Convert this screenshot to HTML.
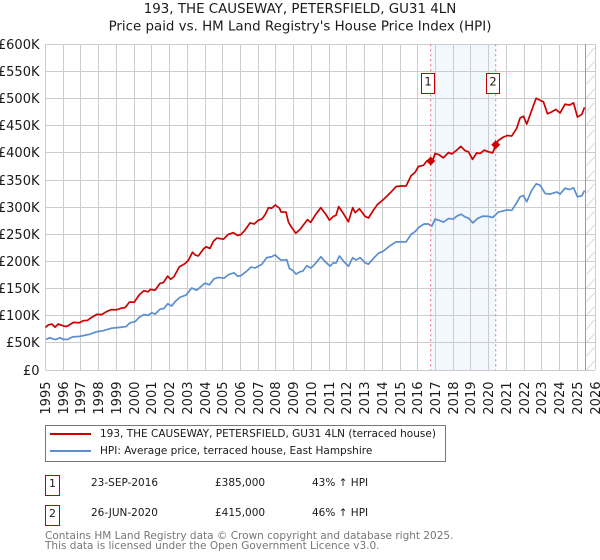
<!DOCTYPE html>
<html lang="en">
<head>
<meta charset="utf-8">
<title>193, The Causeway, Petersfield price chart</title>
<style>
html,body{margin:0;padding:0;background:#fff;}
body{width:600px;height:560px;position:relative;overflow:hidden;font-family:"DejaVu Sans","Liberation Sans",sans-serif;color:#1a1a1a;}
svg{position:absolute;left:0;top:0;}
text{font-family:"DejaVu Sans","Liberation Sans",sans-serif;}
.abs{position:absolute;white-space:nowrap;}
.num-box{position:absolute;left:45px;width:13px;height:19px;border:1px solid #c00000;background:#fff;font-size:11px;line-height:15px;text-align:center;}
.cell{position:absolute;font-size:10.5px;line-height:14px;white-space:nowrap;color:#1a1a1a;}
</style>
</head>
<body>
<svg id="chart" width="600" height="420" viewBox="0 0 600 420" xmlns="http://www.w3.org/2000/svg"></svg>

<div class="abs" style="left:45px;top:425px;width:399px;height:35px;border:1px solid #777;">
  <div class="abs" style="left:4px;top:7px;width:41px;height:2px;background:#cc0000;"></div>
  <div class="abs" style="left:54px;top:1px;font-size:10.5px;line-height:14px;">193, THE CAUSEWAY, PETERSFIELD, GU31 4LN (terraced house)</div>
  <div class="abs" style="left:4px;top:24px;width:41px;height:2px;background:#5b8ed1;"></div>
  <div class="abs" style="left:54px;top:18px;font-size:10.5px;line-height:14px;">HPI: Average price, terraced house, East Hampshire</div>
</div>

<div class="num-box" style="top:475px;">1</div>
<div class="cell" style="left:91px;top:476px;">23-SEP-2016</div>
<div class="cell" style="left:215px;top:476px;">£385,000</div>
<div class="cell" style="left:312px;top:476px;">43% ↑ HPI</div>

<div class="num-box" style="top:505px;">2</div>
<div class="cell" style="left:91px;top:506px;">26-JUN-2020</div>
<div class="cell" style="left:215px;top:506px;">£415,000</div>
<div class="cell" style="left:312px;top:506px;">46% ↑ HPI</div>

<div class="abs" style="left:45px;top:531px;font-size:10.5px;line-height:10px;color:#777;">Contains HM Land Registry data © Crown copyright and database right 2025.<br>This data is licensed under the Open Government Licence v3.0.</div>

<script>
const titleLines = ["193, THE CAUSEWAY, PETERSFIELD, GU31 4LN", "Price paid vs. HM Land Registry's House Price Index (HPI)"];
const yTicks = [0, 50, 100, 150, 200, 250, 300, 350, 400, 450, 500, 550, 600];
const xTicks = [1995,1996,1997,1998,1999,2000,2001,2002,2003,2004,2005,2006,2007,2008,2009,2010,2011,2012,2013,2014,2015,2016,2017,2018,2019,2020,2021,2022,2023,2024,2025,2026];
const saleLabels = ["1", "2"];
const saleYears = [2016.73, 2020.40];
const salePrices = [385, 415];
const dataEndYear = 2025.48;
const propertyYears = [1995,1995.16,1995.35,1995.54,1995.72,1995.97,1996.16,1996.29,1996.57,1996.91,1997.13,1997.36,1997.61,1997.89,1998.17,1998.41,1998.68,1999.02,1999.30,1999.50,1999.73,2000.01,2000.29,2000.55,2000.79,2000.92,2001.18,2001.46,2001.65,2001.89,2002.06,2002.25,2002.55,2002.87,2003.06,2003.29,2003.44,2003.62,2003.91,2004.06,2004.28,2004.47,2004.66,2005.04,2005.32,2005.60,2005.83,2006.01,2006.26,2006.54,2006.77,2007.01,2007.20,2007.39,2007.58,2007.76,2007.97,2008.20,2008.29,2008.57,2008.70,2008.84,2008.99,2009.12,2009.36,2009.64,2009.78,2009.96,2010.21,2010.53,2010.83,2011.02,2011.24,2011.39,2011.54,2011.81,2012.09,2012.33,2012.47,2012.71,2013.03,2013.22,2013.50,2013.73,2014.06,2014.44,2014.78,2015.10,2015.34,2015.63,2015.85,2016.04,2016.32,2016.51,2016.66,2016.83,2016.98,2017.17,2017.45,2017.73,2017.92,2018.20,2018.43,2018.67,2018.86,2019.09,2019.33,2019.52,2019.75,2019.99,2020.23,2020.38,2020.55,2020.83,2021.06,2021.30,2021.58,2021.77,2021.96,2022.15,2022.43,2022.68,2022.90,2023.09,2023.32,2023.56,2023.79,2024.03,2024.31,2024.56,2024.79,2025.01,2025.26,2025.41];
const propertyValues = [78.5,83,84.7,79,84.7,81.6,80,82,87.7,87,90.8,91.4,97,102.5,102,107,111,111,114,115,125,125,138.6,146,144,148.5,147,159.5,161,173,167,172,190,196,202,217,212,210,223,227,224,237,243,241,250,253,248,249,258,271,269,276,278,286,299,298,304,298,291,291,273,265,258,252,259,271,277,272,285,299,286,276,283,285,301,288,273,299,290,297,283,280,294.5,305,314,326,338,339,339,358,364,375,377,385,385,385,399,397,391,400.6,398,405,412,404,402,388,400,399,405,402,400,413.5,423,429,432,431,445,464,467.5,453,478.5,500.6,497,494,472,475.5,480,473.6,489.6,488,492,466,471,484];
const hpiYears = [1995.03,1995.25,1995.44,1995.57,1995.82,1996.01,1996.25,1996.53,1996.95,1997.23,1997.51,1997.89,1998.26,1998.73,1999.20,1999.54,1999.77,2000.05,2000.30,2000.55,2000.79,2000.99,2001.18,2001.46,2001.69,2001.89,2002.12,2002.31,2002.59,2002.93,2003.25,2003.53,2004.00,2004.25,2004.51,2004.75,2005.07,2005.32,2005.64,2005.83,2006.01,2006.35,2006.59,2006.82,2007.20,2007.48,2007.76,2007.95,2008.27,2008.61,2008.76,2008.95,2009.13,2009.36,2009.51,2009.74,2009.96,2010.11,2010.30,2010.53,2010.83,2011.05,2011.24,2011.39,2011.58,2011.81,2012.09,2012.33,2012.52,2012.75,2013.03,2013.22,2013.50,2013.78,2014.06,2014.44,2014.78,2015.10,2015.34,2015.63,2015.85,2016.07,2016.36,2016.60,2016.79,2016.98,2017.26,2017.45,2017.73,2018.01,2018.20,2018.45,2018.67,2018.86,2019.11,2019.37,2019.67,2019.99,2020.23,2020.55,2020.83,2021.06,2021.30,2021.58,2021.77,2021.96,2022.15,2022.43,2022.68,2022.90,2023.19,2023.47,2023.85,2024.03,2024.31,2024.56,2024.79,2025.01,2025.26,2025.41];
const hpiValues = [56.4,59.5,57,56,59.5,56.4,56.4,61,62,64,66,70.5,72.4,77,78.5,80,87,89,97.5,102,100.6,105.5,103,112,113.5,122,118,126,134,138,151,147,160,157,168,170.5,169,175.5,179,173,173.6,182,189.6,188,194.5,207,208.6,212,202.5,203,187,183.5,176.7,181,182,192,188,192,199,208.6,198,191.4,197.5,197,210,200.6,191,207,202.5,207,197.5,195,205.5,215,219,229,236,236,236,250,255,263,269,269,265,278,275,272.4,279,278,283.4,287,282,280,271,279,283.4,283,281,291,293,295,294,308,319,321.5,310,331,343,340.5,325,324,328,324,335,332.5,335.6,319,321,330.7];

const NS = "http://www.w3.org/2000/svg";
const svg = document.getElementById("chart");
const plot = {left: 45.5, right: 595, top: 44.3, bottom: 370};
const xScale = y => plot.left + (y - xTicks[0]) / (xTicks[xTicks.length - 1] - xTicks[0]) * (plot.right - plot.left);
const yScale = v => plot.bottom - v / yTicks[yTicks.length - 1] * (plot.bottom - plot.top);
const snap = p => Math.round(p - 0.5) + 0.5;

function make(tag, attrs, parent, text) {
  const el = document.createElementNS(NS, tag);
  for (const k in attrs) el.setAttribute(k, attrs[k]);
  if (text !== undefined) el.textContent = text;
  (parent || svg).appendChild(el);
  return el;
}

// hatch pattern for the period after the last data point
const defs = make("defs", {});
const pat = make("pattern", {id: "hatch", width: 10, height: 13.6, patternUnits: "userSpaceOnUse", x: snap(xScale(dataEndYear)), y: 44}, defs);
make("line", {x1: 1, y1: 13, x2: 9, y2: 4, stroke: "#d8d8d8", "stroke-width": 1}, pat);

// shaded band between the two sales
const band = make("rect", {x: xScale(saleYears[0]), y: plot.top, width: xScale(saleYears[1]) - xScale(saleYears[0]), height: plot.bottom - plot.top, fill: "#f3f7fe"});



// grid
yTicks.forEach(t => {
  const y = snap(yScale(t));
  const line = make("line", {x1: plot.left, x2: plot.right, y1: y, y2: y, stroke: "#cccccc", "stroke-width": 1});
  
  
  const label = make("text", {x: 39.5, y: y + 4.5, "text-anchor": "end", "font-size": 13, fill: "#1a1a1a"}, svg, t === 0 ? "£0" : "£" + t + "K");
  
  
});
xTicks.forEach(t => {
  const x = snap(xScale(t));
  const line = make("line", {x1: x, x2: x, y1: plot.top, y2: plot.bottom, stroke: "#cccccc", "stroke-width": 1});
  
  
  const label = make("text", {transform: "translate(" + (x + 4.5) + ",381.5) rotate(-90)", "text-anchor": "end", "font-size": 13, fill: "#1a1a1a"}, svg, String(t));
  
  
});

// hatched region and end-of-data line
const hatch = make("rect", {x: xScale(dataEndYear), y: plot.top, width: plot.right - xScale(dataEndYear), height: plot.bottom - plot.top, fill: "url(#hatch)"});


const endLine = make("line", {x1: snap(xScale(dataEndYear)), x2: snap(xScale(dataEndYear)), y1: plot.top, y2: plot.bottom, stroke: "#999999", "stroke-width": 1});



// series
function pathOf(xs, ys) {
  return xs.map((x, i) => (i ? "L" : "M") + xScale(x).toFixed(2) + " " + yScale(ys[i]).toFixed(2)).join("");
}
const hpiLine = make("path", {d: pathOf(hpiYears, hpiValues), fill: "none", stroke: "#5b8ed1", "stroke-width": 1.7, "stroke-linejoin": "round"});


const propertyLine = make("path", {d: pathOf(propertyYears, propertyValues), fill: "none", stroke: "#cc0000", "stroke-width": 1.7, "stroke-linejoin": "round"});



// sales markers
saleYears.forEach((yr, i) => {
  const x = xScale(yr), y = yScale(salePrices[i]);
  const rule = make("line", {x1: x, x2: x, y1: plot.top, y2: plot.bottom, stroke: "#e8707c", "stroke-width": 1, "stroke-dasharray": "2 3"});
  
  
  const marker = make("polygon", {points: [[x, y - 4.5], [x + 4.5, y], [x, y + 4.5], [x - 4.5, y]].map(p => p.join(",")).join(" "), fill: "#cc0000"});
  
  
  const box = make("rect", {x: Math.round(x - 10) + 0.5, y: 73.5, width: 13, height: 20, fill: "#fff", stroke: "#c00000", "stroke-width": 1});
  
  
  const text = make("text", {x: Math.round(x - 10) + 7, y: 85.5, "text-anchor": "middle", "font-size": 11.5, fill: "#1a1a1a"}, svg, saleLabels[i]);
  
  
});

// title
titleLines.forEach((line, i) => {
  const t = make("text", {x: 300, y: 13 + i * 17.5, "text-anchor": "middle", "font-size": 13.4, fill: "#1a1a1a"}, svg, line);
  
  
});
</script>
</body>
</html>
